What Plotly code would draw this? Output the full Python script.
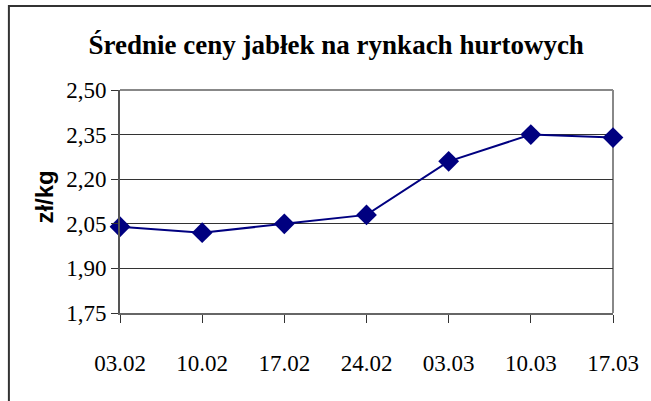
import plotly.graph_objects as go

categories = ["03.02", "10.02", "17.02", "24.02", "03.03", "10.03", "17.03"]
prices = [2.04, 2.02, 2.05, 2.08, 2.26, 2.35, 2.34]
y_ticks = [1.75, 1.90, 2.05, 2.20, 2.35, 2.50]

W, H = 651, 401
L, R, T, B = 120, 34, 90, 88
pw, ph = W - L - R, H - T - B

SERIF = "Times New Roman, Liberation Serif, DejaVu Serif, serif"

def px_x(p):
    return (p - L) / pw

def px_y(p):
    return (H - B - p) / ph

fig = go.Figure()
fig.add_trace(go.Scatter(
    x=categories, y=prices, mode="lines+markers",
    line=dict(color="#000080", width=2),
    marker=dict(symbol="diamond", size=16, color="#000080"),
    cliponaxis=False, showlegend=False, hoverinfo="skip",
))

fig.update_layout(
    width=W, height=H,
    margin=dict(l=L, r=R, t=T, b=B),
    paper_bgcolor="white", plot_bgcolor="white",
    separators=", ",
    font=dict(family=SERIF, color="black"),
    title=dict(
        text="<b>Średnie ceny jabłek na rynkach hurtowych</b>",
        font=dict(family=SERIF, size=27, color="black"),
        xref="paper", x=px_x(338), xanchor="center",
        yref="container", y=1 - 45 / H, yanchor="middle",
    ),
    xaxis=dict(
        type="category", range=[0, 6],
        showgrid=False, showline=True, linecolor="#666", linewidth=2,
        ticks="outside", ticklen=8, tickcolor="#333", tickwidth=1,
        ticklabelstandoff=20,
        tickfont=dict(family=SERIF, size=23, color="black"),
        mirror=False, zeroline=False,
    ),
    yaxis=dict(
        range=[1.75, 2.50], tickvals=y_ticks, tickformat=".2f",
        showgrid=True, gridcolor="#333", gridwidth=1,
        showline=True, linecolor="#555", linewidth=2,
        ticks="outside", ticklen=7, tickcolor="#333", tickwidth=1,
        tickfont=dict(family=SERIF, size=23, color="black"),
        zeroline=False,
    ),
    annotations=[dict(
        text="<b>zł/kg</b>", textangle=-90, showarrow=False,
        xref="paper", yref="paper", x=px_x(43), y=px_y(197),
        xanchor="center", yanchor="middle",
        font=dict(family="Arial, Liberation Sans, sans-serif", size=24, color="black"),
    )],
    shapes=[
        dict(type="line", xref="paper", yref="paper", x0=0, x1=1, y0=1, y1=1,
             line=dict(color="#888", width=2), layer="below"),
        dict(type="line", xref="paper", yref="paper", x0=1, x1=1, y0=0, y1=1,
             line=dict(color="#888", width=2), layer="below"),
        dict(type="rect", xref="paper", yref="paper",
             x0=px_x(8), x1=px_x(665), y0=px_y(415), y1=px_y(6),
             line=dict(color="#333", width=2)),
    ],
)

fig.write_html("out.html", config={"displayModeBar": False},
               post_script="document.body.style.margin='0';")
